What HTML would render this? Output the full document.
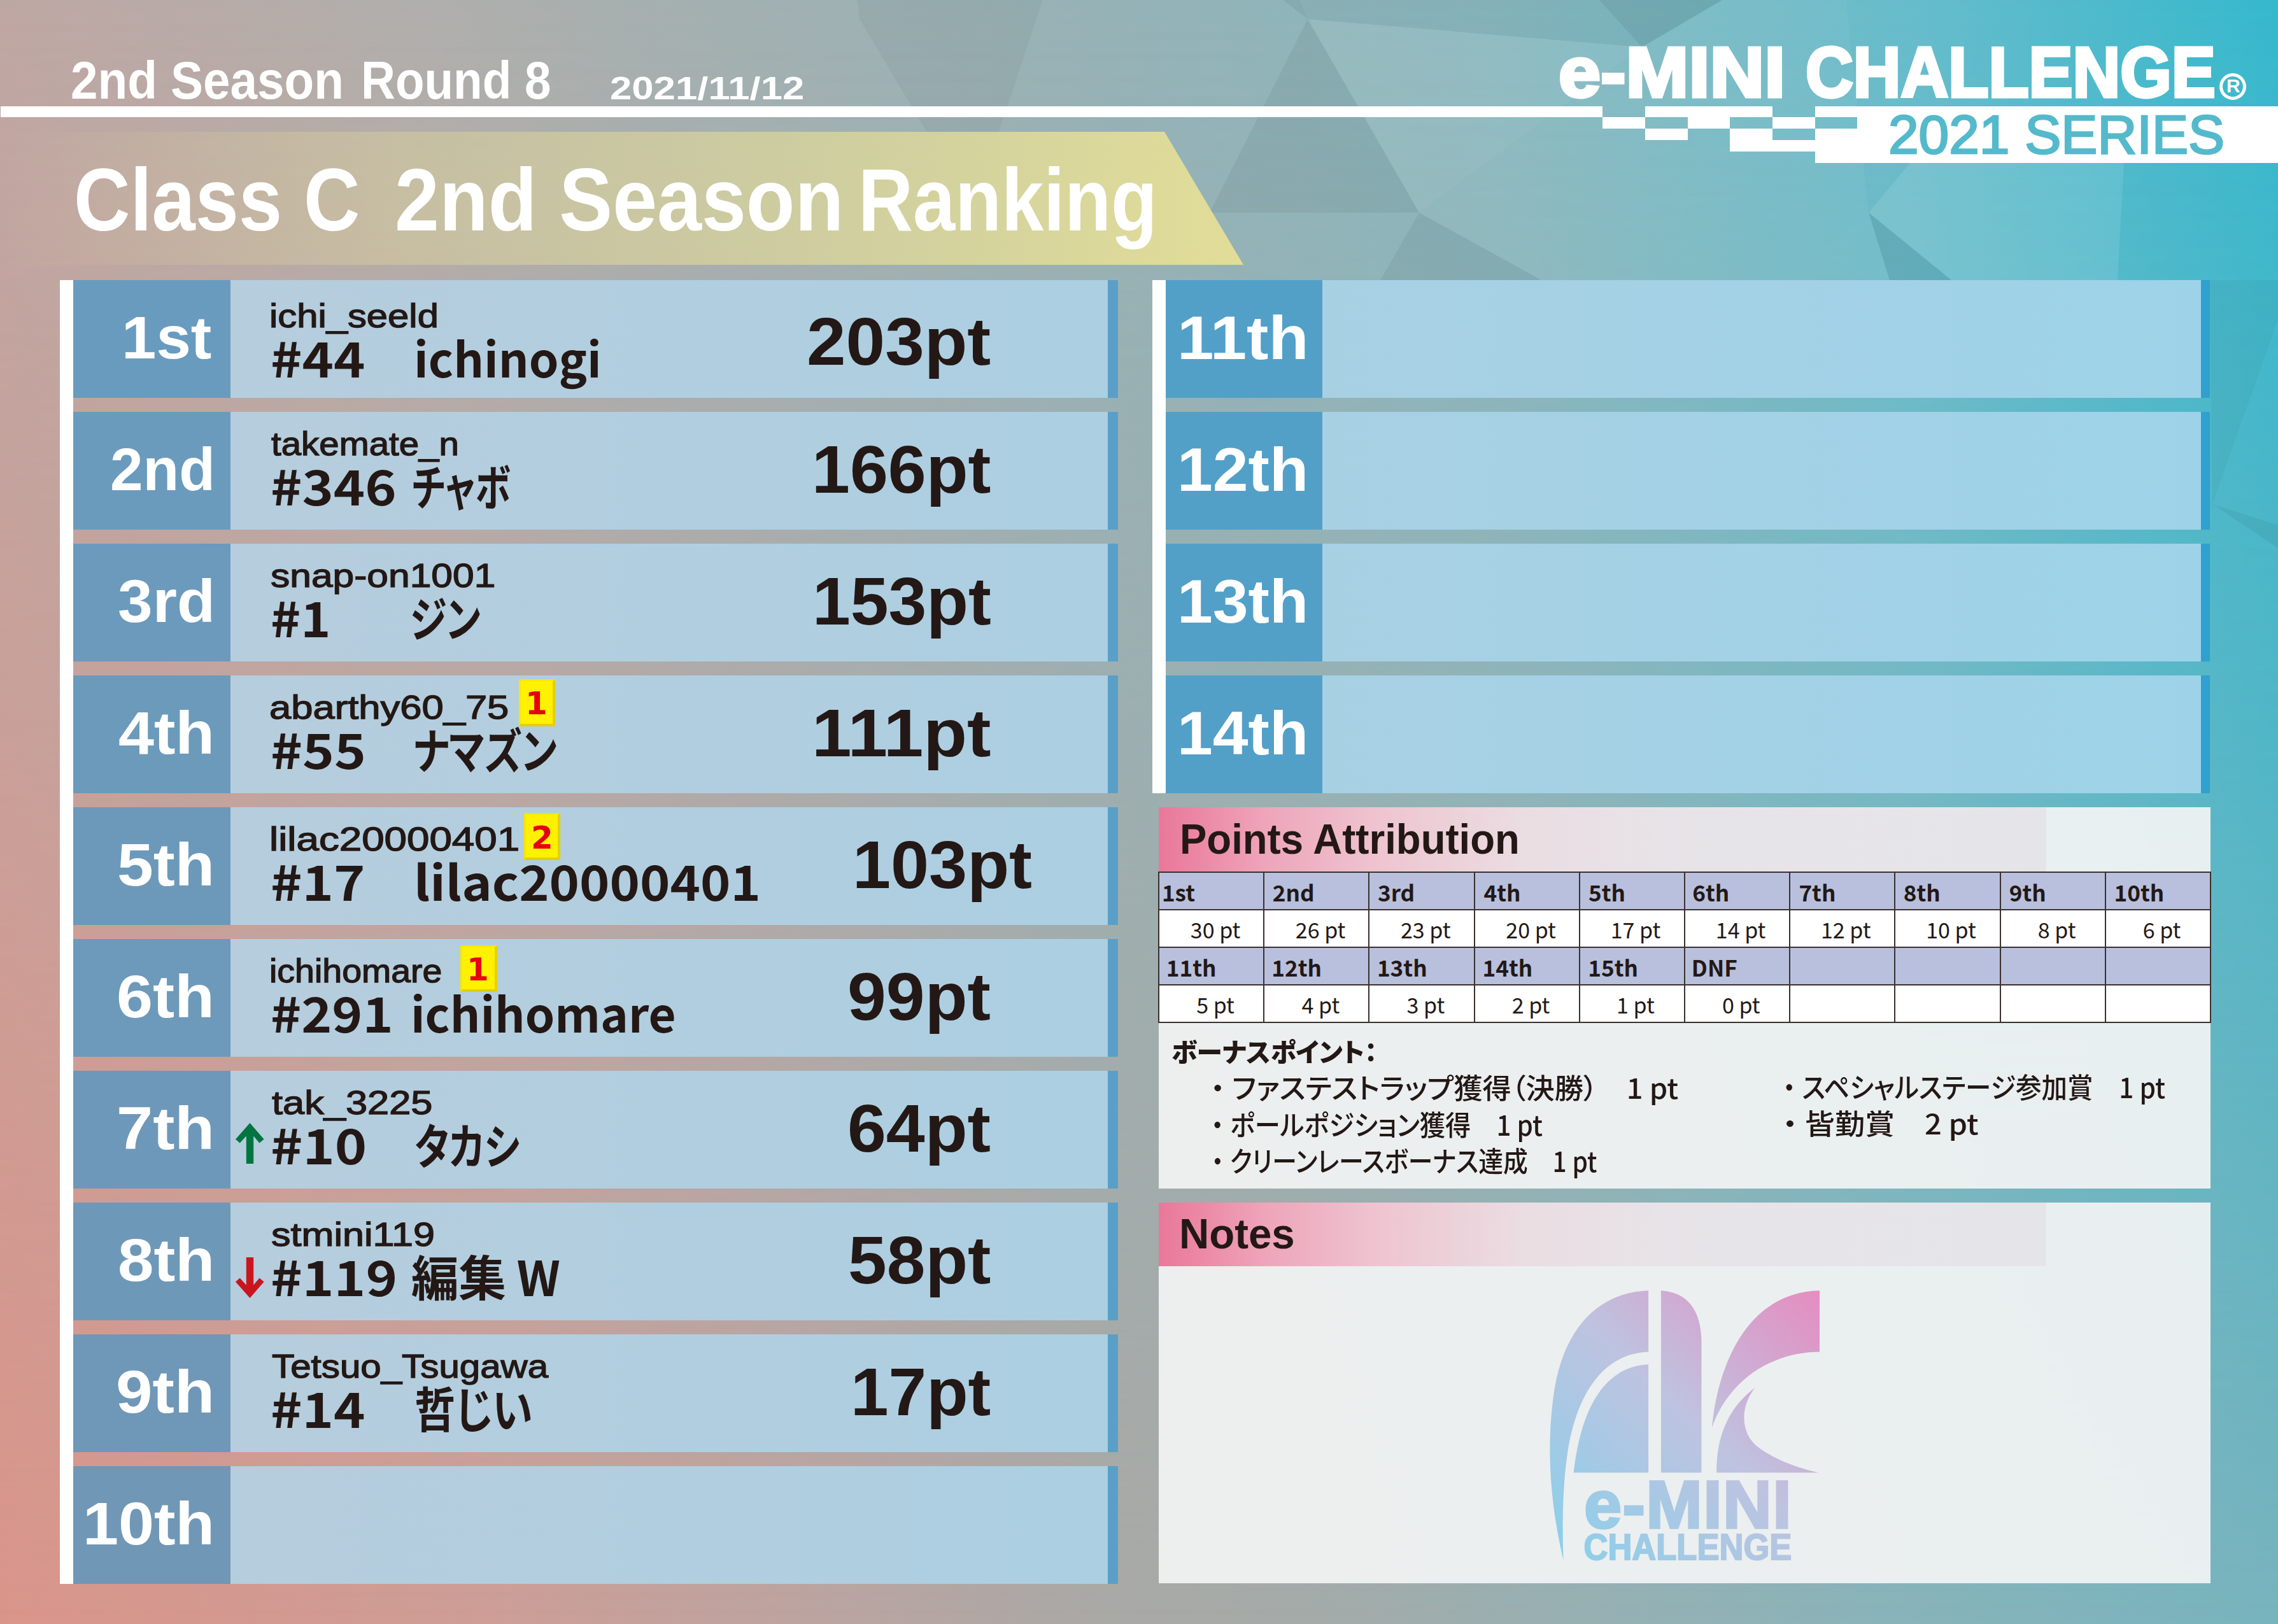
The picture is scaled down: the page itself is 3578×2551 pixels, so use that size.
<!DOCTYPE html><html><head><meta charset="utf-8"><style>
*{margin:0;padding:0;box-sizing:border-box}
html,body{width:3578px;height:2551px;overflow:hidden}
body{position:relative;font-family:"Liberation Sans","Noto Sans CJK JP",sans-serif;background:#a9aca9}
.a{position:absolute}
.t{position:absolute;white-space:pre;line-height:1;transform-origin:0 0}
#bgb{left:0;top:0;width:3578px;height:2551px;
 background:linear-gradient(to right,#da958a 0%,#cd9e97 22%,#b9a5a2 38%,#aaa9a6 48%,#a4aba9 58%,#99b0b2 68%,#88b4ba 84%,#78b4be 100%)}
#bgt{left:0;top:0;width:3578px;height:2551px;
 background:linear-gradient(to right,#bea7a3 0%,#b1aeab 17%,#a2b0b1 32%,#96b2b6 48%,#88b7be 66%,#66bccb 84%,#36b8cd 100%);
 -webkit-mask-image:linear-gradient(to bottom,#000 0%,rgba(0,0,0,.6) 45%,transparent 100%);
 mask-image:linear-gradient(to bottom,#000 0%,rgba(0,0,0,.6) 45%,transparent 100%)}
.bx{position:absolute;background:rgba(243,244,244,.92)}
.hd{position:absolute;background:linear-gradient(to right,#e9789a 0%,#eb86a3 4%,#eea5ba 12%,#eec5d0 25%,#eadde2 41%,#e7e4e8 60%,#e5e5e9 100%)}
</style></head><body>
<div id="bgb" class="a"></div><div id="bgt" class="a"></div>
<svg class="a" style="left:0;top:0" width="3578" height="2551"><polygon points="2054,30 2229,334 1900,334" fill="#000" fill-opacity="0.05"/><polygon points="2015,0 2054,30 2040,0" fill="#000" fill-opacity="0.05"/><polygon points="2054,30 2229,334 2579,74" fill="#fff" fill-opacity="0.07"/><polygon points="2229,334 2168,440 2421,440" fill="#000" fill-opacity="0.05"/><polygon points="2229,334 2579,74 2705,0 2900,0 2935,334 2797,440 2421,440" fill="#fff" fill-opacity="0.045"/><polygon points="2935,334 2968,440 3065,440" fill="#000" fill-opacity="0.08"/><polygon points="2797,440 2935,334 2968,440" fill="#fff" fill-opacity="0.05"/><polygon points="2038,0 2054,30 2579,74 2705,0" fill="#000" fill-opacity="0.03"/><polygon points="2512,0 2579,74 2705,0" fill="#000" fill-opacity="0.06"/><polygon points="3065,440 2935,334 3000,256 3336,256 3326,440" fill="#fff" fill-opacity="0.1"/><polygon points="1346,0 1638,0 1568,210 1457,210 1350,30" fill="#000" fill-opacity="0.035"/><polygon points="3475,792 3578,502 3578,440 3471,440" fill="#000" fill-opacity="0.03"/><polygon points="3475,792 3578,825 3578,861" fill="#000" fill-opacity="0.05"/></svg>
<svg class="a" style="left:0;top:0" width="3578" height="440"><defs><linearGradient id="bn" x1="0" x2="1" y1="0" y2="0"><stop offset="0" stop-color="#e8dd98" stop-opacity="0"/><stop offset="0.3" stop-color="#e6dc98" stop-opacity="0.35"/><stop offset="1" stop-color="#e6df96" stop-opacity="0.95"/></linearGradient></defs><polygon points="0,207 1829,207 1953,416 0,416" fill="url(#bn)"/></svg>
<div class="a" style="left:1px;top:167px;width:2516px;height:17px;background:#fff;"></div>
<div class="a" style="left:2584px;top:167px;width:200px;height:17px;background:#fff;"></div>
<div class="a" style="left:2851px;top:167px;width:727px;height:17px;background:#fff;"></div>
<div class="a" style="left:2517px;top:184px;width:67px;height:18px;background:#fff;"></div>
<div class="a" style="left:2651px;top:184px;width:66px;height:18px;background:#fff;"></div>
<div class="a" style="left:2784px;top:184px;width:67px;height:18px;background:#fff;"></div>
<div class="a" style="left:2917px;top:184px;width:661px;height:18px;background:#fff;"></div>
<div class="a" style="left:2584px;top:202px;width:67px;height:18px;background:#fff;"></div>
<div class="a" style="left:2717px;top:202px;width:67px;height:18px;background:#fff;"></div>
<div class="a" style="left:2851px;top:202px;width:727px;height:18px;background:#fff;"></div>
<div class="a" style="left:2717px;top:220px;width:861px;height:18px;background:#fff;"></div>
<div class="a" style="left:2851px;top:238px;width:727px;height:18px;background:#fff;"></div>
<div class="t" style="left:111.3px;top:84.6px;font-size:83.91px;font-family:'Liberation Sans','Noto Sans CJK JP',sans-serif;font-weight:bold;color:#fff;transform:scaleX(0.9108);;">2nd Season</div>
<div class="t" style="left:567.4px;top:84.6px;font-size:83.91px;font-family:'Liberation Sans','Noto Sans CJK JP',sans-serif;font-weight:bold;color:#fff;transform:scaleX(0.8896);;">Round 8</div>
<div class="t" style="left:958.2px;top:113.7px;font-size:50.29px;font-family:'Liberation Sans','Noto Sans CJK JP',sans-serif;font-weight:bold;color:#fff;transform:scaleX(1.2269);;">2021/11/12</div>
<div class="t" style="left:115.8px;top:243.9px;font-size:140.0px;font-family:'Liberation Sans','Noto Sans CJK JP',sans-serif;font-weight:bold;color:#fff;transform:scaleX(0.8754);;">Class C</div>
<div class="t" style="left:620.3px;top:243.9px;font-size:140.0px;font-family:'Liberation Sans','Noto Sans CJK JP',sans-serif;font-weight:bold;color:#fff;transform:scaleX(0.8976);;">2nd Season</div>
<div class="t" style="left:1348.3px;top:243.9px;font-size:140.0px;font-family:'Liberation Sans','Noto Sans CJK JP',sans-serif;font-weight:bold;color:#fff;transform:scaleX(0.8504);;">Ranking</div>
<div class="t" style="left:2448.2px;top:59.4px;font-size:110.95px;font-family:'Liberation Sans','Noto Sans CJK JP',sans-serif;font-weight:bold;color:#fff;transform:scaleX(1.07);-webkit-text-stroke:0.045em currentColor;">e-MINI</div>
<div class="t" style="left:2836.4px;top:59.4px;font-size:110.95px;font-family:'Liberation Sans','Noto Sans CJK JP',sans-serif;font-weight:bold;color:#fff;transform:scaleX(0.9327);-webkit-text-stroke:0.045em currentColor;">CHALLENGE</div>
<div class="a" style="left:3486px;top:115px;width:42px;height:42px;border:5px solid #fff;border-radius:50%"></div>
<div class="t" style="left:3497px;top:120px;font-size:30px;font-weight:bold;color:#fff">R</div>
<div class="t" style="left:2966.0px;top:168.9px;font-size:85.0px;font-family:'Liberation Sans','Noto Sans CJK JP',sans-serif;font-weight:normal;color:#55b9cc;transform:scaleX(1.0071);-webkit-text-stroke:0.032em currentColor;">2021 SERIES</div>
<div class="a" style="left:94px;top:440px;width:21px;height:2048px;background:#fff;"></div>
<div class="a" style="left:115px;top:440px;width:247px;height:185px;background:#699bbe;"></div>
<div class="a" style="left:362px;top:440px;width:1378px;height:185px;background:linear-gradient(to right,#b6cddd,#b2cedf 40%,#accfe2);"></div>
<div class="a" style="left:1740px;top:440px;width:16px;height:185px;background:#5a9fc8;"></div>
<div class="t" style="left:190.6px;top:483.3px;font-size:94.93px;font-family:'Liberation Sans','Noto Sans CJK JP',sans-serif;font-weight:bold;color:#fff;transform:scaleX(1.0304);;">1st</div>
<div class="t" style="left:423.2px;top:470.0px;font-size:52.32px;font-family:'Liberation Sans','Noto Sans CJK JP',sans-serif;font-weight:normal;color:#231815;transform:scaleX(1.1429);-webkit-text-stroke:0.026em currentColor;">ichi_seeld</div>
<div class="t" style="left:424.6px;top:523.2px;font-size:75.68px;font-family:'Noto Sans CJK JP','Liberation Sans',sans-serif;font-weight:bold;color:#231815;transform:scaleX(1.1092);;">#44</div>
<div class="t" style="left:650.3px;top:523.2px;font-size:75.68px;font-family:'Noto Sans CJK JP','Liberation Sans',sans-serif;font-weight:bold;color:#231815;transform:scaleX(0.988);font-feature-settings:'palt';">ichinogi</div>
<div class="t" style="left:1267.1px;top:484.0px;font-size:105.36px;font-family:'Liberation Sans','Noto Sans CJK JP',sans-serif;font-weight:bold;color:#231815;transform:scaleX(1.0509);;">203pt</div>
<div class="a" style="left:115px;top:647px;width:247px;height:185px;background:#6a9bbd;"></div>
<div class="a" style="left:362px;top:647px;width:1378px;height:185px;background:linear-gradient(to right,#b6cddd,#b2cedf 40%,#accfe2);"></div>
<div class="a" style="left:1740px;top:647px;width:16px;height:185px;background:#5a9fc8;"></div>
<div class="t" style="left:172.5px;top:690.3px;font-size:94.93px;font-family:'Liberation Sans','Noto Sans CJK JP',sans-serif;font-weight:bold;color:#fff;transform:scaleX(0.9767);;">2nd</div>
<div class="t" style="left:426.0px;top:671.0px;font-size:52.32px;font-family:'Liberation Sans','Noto Sans CJK JP',sans-serif;font-weight:normal;color:#231815;transform:scaleX(1.0785);-webkit-text-stroke:0.026em currentColor;">takemate_n</div>
<div class="t" style="left:424.6px;top:724.2px;font-size:75.68px;font-family:'Noto Sans CJK JP','Liberation Sans',sans-serif;font-weight:bold;color:#231815;transform:scaleX(1.107);;">#346</div>
<div class="t" style="left:647.0px;top:724.2px;font-size:75.68px;font-family:'Noto Sans CJK JP','Liberation Sans',sans-serif;font-weight:bold;color:#231815;transform:scaleX(0.7387);font-feature-settings:'palt';">チャボ</div>
<div class="t" style="left:1275.0px;top:685.0px;font-size:105.36px;font-family:'Liberation Sans','Noto Sans CJK JP',sans-serif;font-weight:bold;color:#231815;transform:scaleX(1.0221);;">166pt</div>
<div class="a" style="left:115px;top:854px;width:247px;height:185px;background:#6b9abc;"></div>
<div class="a" style="left:362px;top:854px;width:1378px;height:185px;background:linear-gradient(to right,#b6cddd,#b2cedf 40%,#accfe2);"></div>
<div class="a" style="left:1740px;top:854px;width:16px;height:185px;background:#5a9fc8;"></div>
<div class="t" style="left:184.5px;top:897.3px;font-size:94.93px;font-family:'Liberation Sans','Noto Sans CJK JP',sans-serif;font-weight:bold;color:#fff;transform:scaleX(1.0355);;">3rd</div>
<div class="t" style="left:425.1px;top:878.0px;font-size:52.32px;font-family:'Liberation Sans','Noto Sans CJK JP',sans-serif;font-weight:normal;color:#231815;transform:scaleX(1.1567);-webkit-text-stroke:0.026em currentColor;">snap-on1001</div>
<div class="t" style="left:424.8px;top:931.2px;font-size:75.68px;font-family:'Noto Sans CJK JP','Liberation Sans',sans-serif;font-weight:bold;color:#231815;transform:scaleX(1.0571);;">#1</div>
<div class="t" style="left:644.3px;top:931.2px;font-size:75.68px;font-family:'Noto Sans CJK JP','Liberation Sans',sans-serif;font-weight:bold;color:#231815;transform:scaleX(0.7745);font-feature-settings:'palt';">ジン</div>
<div class="t" style="left:1275.5px;top:892.0px;font-size:105.36px;font-family:'Liberation Sans','Noto Sans CJK JP',sans-serif;font-weight:bold;color:#231815;transform:scaleX(1.0202);;">153pt</div>
<div class="a" style="left:115px;top:1061px;width:247px;height:185px;background:#6b9abb;"></div>
<div class="a" style="left:362px;top:1061px;width:1378px;height:185px;background:linear-gradient(to right,#b6cddd,#b2cedf 40%,#accfe2);"></div>
<div class="a" style="left:1740px;top:1061px;width:16px;height:185px;background:#5a9fc8;"></div>
<div class="t" style="left:186.2px;top:1104.3px;font-size:94.93px;font-family:'Liberation Sans','Noto Sans CJK JP',sans-serif;font-weight:bold;color:#fff;transform:scaleX(1.0593);;">4th</div>
<div class="t" style="left:423.0px;top:1085.0px;font-size:52.32px;font-family:'Liberation Sans','Noto Sans CJK JP',sans-serif;font-weight:normal;color:#231815;transform:scaleX(1.1762);-webkit-text-stroke:0.026em currentColor;">abarthy60_75</div>
<div class="t" style="left:424.6px;top:1138.2px;font-size:75.68px;font-family:'Noto Sans CJK JP','Liberation Sans',sans-serif;font-weight:bold;color:#231815;transform:scaleX(1.1203);;">#55</div>
<div class="t" style="left:649.1px;top:1138.2px;font-size:75.68px;font-family:'Noto Sans CJK JP','Liberation Sans',sans-serif;font-weight:bold;color:#231815;transform:scaleX(0.7986);font-feature-settings:'palt';">ナマズン</div>
<div class="t" style="left:1275.0px;top:1099.0px;font-size:105.36px;font-family:'Liberation Sans','Noto Sans CJK JP',sans-serif;font-weight:bold;color:#231815;transform:scaleX(1.0681);;">111pt</div>
<div class="a" style="left:115px;top:1268px;width:247px;height:185px;background:#6c99ba;"></div>
<div class="a" style="left:362px;top:1268px;width:1378px;height:185px;background:linear-gradient(to right,#b6cddd,#b2cedf 40%,#accfe2);"></div>
<div class="a" style="left:1740px;top:1268px;width:16px;height:185px;background:#5a9fc8;"></div>
<div class="t" style="left:183.8px;top:1311.3px;font-size:94.93px;font-family:'Liberation Sans','Noto Sans CJK JP',sans-serif;font-weight:bold;color:#fff;transform:scaleX(1.0766);;">5th</div>
<div class="t" style="left:423.2px;top:1292.0px;font-size:52.32px;font-family:'Liberation Sans','Noto Sans CJK JP',sans-serif;font-weight:normal;color:#231815;transform:scaleX(1.2176);-webkit-text-stroke:0.026em currentColor;">lilac20000401</div>
<div class="t" style="left:424.6px;top:1345.2px;font-size:75.68px;font-family:'Noto Sans CJK JP','Liberation Sans',sans-serif;font-weight:bold;color:#231815;transform:scaleX(1.1091);;">#17</div>
<div class="t" style="left:649.6px;top:1345.2px;font-size:75.68px;font-family:'Noto Sans CJK JP','Liberation Sans',sans-serif;font-weight:bold;color:#231815;transform:scaleX(1.0635);font-feature-settings:'palt';">lilac20000401</div>
<div class="t" style="left:1339.2px;top:1306.0px;font-size:105.36px;font-family:'Liberation Sans','Noto Sans CJK JP',sans-serif;font-weight:bold;color:#231815;transform:scaleX(1.0247);;">103pt</div>
<div class="a" style="left:115px;top:1475px;width:247px;height:185px;background:#6d99ba;"></div>
<div class="a" style="left:362px;top:1475px;width:1378px;height:185px;background:linear-gradient(to right,#b6cddd,#b2cedf 40%,#accfe2);"></div>
<div class="a" style="left:1740px;top:1475px;width:16px;height:185px;background:#5a9fc8;"></div>
<div class="t" style="left:183.4px;top:1518.3px;font-size:94.93px;font-family:'Liberation Sans','Noto Sans CJK JP',sans-serif;font-weight:bold;color:#fff;transform:scaleX(1.0797);;">6th</div>
<div class="t" style="left:422.9px;top:1499.0px;font-size:52.32px;font-family:'Liberation Sans','Noto Sans CJK JP',sans-serif;font-weight:normal;color:#231815;transform:scaleX(1.0609);-webkit-text-stroke:0.026em currentColor;">ichihomare</div>
<div class="t" style="left:424.7px;top:1552.2px;font-size:75.68px;font-family:'Noto Sans CJK JP','Liberation Sans',sans-serif;font-weight:bold;color:#231815;transform:scaleX(1.0782);;">#291</div>
<div class="t" style="left:645.4px;top:1552.2px;font-size:75.68px;font-family:'Noto Sans CJK JP','Liberation Sans',sans-serif;font-weight:bold;color:#231815;transform:scaleX(0.983);font-feature-settings:'palt';">ichihomare</div>
<div class="t" style="left:1331.1px;top:1513.0px;font-size:105.36px;font-family:'Liberation Sans','Noto Sans CJK JP',sans-serif;font-weight:bold;color:#231815;transform:scaleX(1.0384);;">99pt</div>
<div class="a" style="left:115px;top:1682px;width:247px;height:185px;background:#6e98b9;"></div>
<div class="a" style="left:362px;top:1682px;width:1378px;height:185px;background:linear-gradient(to right,#b6cddd,#b2cedf 40%,#accfe2);"></div>
<div class="a" style="left:1740px;top:1682px;width:16px;height:185px;background:#5a9fc8;"></div>
<div class="t" style="left:183.1px;top:1725.3px;font-size:94.93px;font-family:'Liberation Sans','Noto Sans CJK JP',sans-serif;font-weight:bold;color:#fff;transform:scaleX(1.0821);;">7th</div>
<div class="t" style="left:427.0px;top:1706.0px;font-size:52.32px;font-family:'Liberation Sans','Noto Sans CJK JP',sans-serif;font-weight:normal;color:#231815;transform:scaleX(1.1726);-webkit-text-stroke:0.026em currentColor;">tak_3225</div>
<div class="t" style="left:424.6px;top:1759.2px;font-size:75.68px;font-family:'Noto Sans CJK JP','Liberation Sans',sans-serif;font-weight:bold;color:#231815;transform:scaleX(1.1293);;">#10</div>
<div class="t" style="left:650.9px;top:1759.2px;font-size:75.68px;font-family:'Noto Sans CJK JP','Liberation Sans',sans-serif;font-weight:bold;color:#231815;transform:scaleX(0.7885);font-feature-settings:'palt';">タカシ</div>
<div class="t" style="left:1331.2px;top:1720.0px;font-size:105.36px;font-family:'Liberation Sans','Noto Sans CJK JP',sans-serif;font-weight:bold;color:#231815;transform:scaleX(1.0388);;">64pt</div>
<div class="a" style="left:115px;top:1889px;width:247px;height:185px;background:#6e98b8;"></div>
<div class="a" style="left:362px;top:1889px;width:1378px;height:185px;background:linear-gradient(to right,#b6cddd,#b2cedf 40%,#accfe2);"></div>
<div class="a" style="left:1740px;top:1889px;width:16px;height:185px;background:#5a9fc8;"></div>
<div class="t" style="left:184.7px;top:1932.3px;font-size:94.93px;font-family:'Liberation Sans','Noto Sans CJK JP',sans-serif;font-weight:bold;color:#fff;transform:scaleX(1.0706);;">8th</div>
<div class="t" style="left:426.1px;top:1913.0px;font-size:52.32px;font-family:'Liberation Sans','Noto Sans CJK JP',sans-serif;font-weight:normal;color:#231815;transform:scaleX(1.1675);-webkit-text-stroke:0.026em currentColor;">stmini119</div>
<div class="t" style="left:424.6px;top:1966.2px;font-size:75.68px;font-family:'Noto Sans CJK JP','Liberation Sans',sans-serif;font-weight:bold;color:#231815;transform:scaleX(1.1154);;">#119</div>
<div class="t" style="left:646.1px;top:1966.2px;font-size:75.68px;font-family:'Noto Sans CJK JP','Liberation Sans',sans-serif;font-weight:bold;color:#231815;transform:scaleX(0.9835);font-feature-settings:'palt';">編集 W</div>
<div class="t" style="left:1331.7px;top:1927.0px;font-size:105.36px;font-family:'Liberation Sans','Noto Sans CJK JP',sans-serif;font-weight:bold;color:#231815;transform:scaleX(1.0362);;">58pt</div>
<div class="a" style="left:115px;top:2096px;width:247px;height:185px;background:#6f97b7;"></div>
<div class="a" style="left:362px;top:2096px;width:1378px;height:185px;background:linear-gradient(to right,#b6cddd,#b2cedf 40%,#accfe2);"></div>
<div class="a" style="left:1740px;top:2096px;width:16px;height:185px;background:#5a9fc8;"></div>
<div class="t" style="left:182.1px;top:2139.3px;font-size:94.93px;font-family:'Liberation Sans','Noto Sans CJK JP',sans-serif;font-weight:bold;color:#fff;transform:scaleX(1.0894);;">9th</div>
<div class="t" style="left:426.7px;top:2120.0px;font-size:52.32px;font-family:'Liberation Sans','Noto Sans CJK JP',sans-serif;font-weight:normal;color:#231815;transform:scaleX(1.114);-webkit-text-stroke:0.026em currentColor;">Tetsuo_Tsugawa</div>
<div class="t" style="left:424.6px;top:2173.2px;font-size:75.68px;font-family:'Noto Sans CJK JP','Liberation Sans',sans-serif;font-weight:bold;color:#231815;transform:scaleX(1.11);;">#14</div>
<div class="t" style="left:651.0px;top:2173.2px;font-size:75.68px;font-family:'Noto Sans CJK JP','Liberation Sans',sans-serif;font-weight:bold;color:#231815;transform:scaleX(0.8476);font-feature-settings:'palt';">哲じい</div>
<div class="t" style="left:1335.5px;top:2134.0px;font-size:105.36px;font-family:'Liberation Sans','Noto Sans CJK JP',sans-serif;font-weight:bold;color:#231815;transform:scaleX(1.0167);;">17pt</div>
<div class="a" style="left:115px;top:2303px;width:247px;height:185px;background:#7097b6;"></div>
<div class="a" style="left:362px;top:2303px;width:1378px;height:185px;background:linear-gradient(to right,#b6cddd,#b2cedf 40%,#accfe2);"></div>
<div class="a" style="left:1740px;top:2303px;width:16px;height:185px;background:#5a9fc8;"></div>
<div class="t" style="left:130.1px;top:2346.3px;font-size:94.93px;font-family:'Liberation Sans','Noto Sans CJK JP',sans-serif;font-weight:bold;color:#fff;transform:scaleX(1.0611);;">10th</div>
<div class="a" style="left:1810px;top:440px;width:21px;height:806px;background:#fff;"></div>
<div class="a" style="left:1831px;top:440px;width:246px;height:185px;background:#52a0c8;"></div>
<div class="a" style="left:2077px;top:440px;width:1380px;height:185px;background:linear-gradient(to right,#a8d0e3,#a3d1e6 50%,#9dd3e8);"></div>
<div class="a" style="left:3457px;top:440px;width:14px;height:185px;background:#30a0ce;"></div>
<div class="t" style="left:1848.8px;top:482.5px;font-size:96.81px;font-family:'Liberation Sans','Noto Sans CJK JP',sans-serif;font-weight:bold;color:#fff;transform:scaleX(1.066);;">11th</div>
<div class="a" style="left:1831px;top:647px;width:246px;height:185px;background:#52a0c8;"></div>
<div class="a" style="left:2077px;top:647px;width:1380px;height:185px;background:linear-gradient(to right,#a8d0e3,#a3d1e6 50%,#9dd3e8);"></div>
<div class="a" style="left:3457px;top:647px;width:14px;height:185px;background:#30a0ce;"></div>
<div class="t" style="left:1849.0px;top:689.5px;font-size:96.81px;font-family:'Liberation Sans','Noto Sans CJK JP',sans-serif;font-weight:bold;color:#fff;transform:scaleX(1.0356);;">12th</div>
<div class="a" style="left:1831px;top:854px;width:246px;height:185px;background:#52a0c8;"></div>
<div class="a" style="left:2077px;top:854px;width:1380px;height:185px;background:linear-gradient(to right,#a8d0e3,#a3d1e6 50%,#9dd3e8);"></div>
<div class="a" style="left:3457px;top:854px;width:14px;height:185px;background:#30a0ce;"></div>
<div class="t" style="left:1849.0px;top:896.5px;font-size:96.81px;font-family:'Liberation Sans','Noto Sans CJK JP',sans-serif;font-weight:bold;color:#fff;transform:scaleX(1.0356);;">13th</div>
<div class="a" style="left:1831px;top:1061px;width:246px;height:185px;background:#52a0c8;"></div>
<div class="a" style="left:2077px;top:1061px;width:1380px;height:185px;background:linear-gradient(to right,#a8d0e3,#a3d1e6 50%,#9dd3e8);"></div>
<div class="a" style="left:3457px;top:1061px;width:14px;height:185px;background:#30a0ce;"></div>
<div class="t" style="left:1849.0px;top:1103.5px;font-size:96.81px;font-family:'Liberation Sans','Noto Sans CJK JP',sans-serif;font-weight:bold;color:#fff;transform:scaleX(1.0356);;">14th</div>
<div class="bx" style="left:1820px;top:1268px;width:1652px;height:599px"></div>
<div class="hd" style="left:1820px;top:1268px;width:1394px;height:102px"></div>
<div class="t" style="left:1852.6px;top:1285.4px;font-size:66.23px;font-family:'Liberation Sans','Noto Sans CJK JP',sans-serif;font-weight:bold;color:#231815;transform:scaleX(0.959);;">Points Attribution</div>
<div class="a" style="left:1820px;top:1370px;width:1652px;height:59px;background:#b8c0dd;"></div>
<div class="a" style="left:1820px;top:1429px;width:1652px;height:59px;background:#fff;"></div>
<div class="a" style="left:1820px;top:1488px;width:1652px;height:59px;background:#b8c0dd;"></div>
<div class="a" style="left:1820px;top:1547px;width:1652px;height:59px;background:#fff;"></div>
<div class="a" style="left:1820px;top:1369px;width:1652px;height:2px;background:#3a302e;"></div>
<div class="a" style="left:1820px;top:1428px;width:1652px;height:2px;background:#3a302e;"></div>
<div class="a" style="left:1820px;top:1487px;width:1652px;height:2px;background:#3a302e;"></div>
<div class="a" style="left:1820px;top:1546px;width:1652px;height:2px;background:#3a302e;"></div>
<div class="a" style="left:1820px;top:1605px;width:1652px;height:2px;background:#3a302e;"></div>
<div class="a" style="left:1818.6px;top:1369px;width:2px;height:238px;background:#3a302e;"></div>
<div class="a" style="left:1984.2px;top:1369px;width:2px;height:238px;background:#3a302e;"></div>
<div class="a" style="left:2149px;top:1369px;width:2px;height:238px;background:#3a302e;"></div>
<div class="a" style="left:2314.5px;top:1369px;width:2px;height:238px;background:#3a302e;"></div>
<div class="a" style="left:2479.7px;top:1369px;width:2px;height:238px;background:#3a302e;"></div>
<div class="a" style="left:2644.9px;top:1369px;width:2px;height:238px;background:#3a302e;"></div>
<div class="a" style="left:2810px;top:1369px;width:2px;height:238px;background:#3a302e;"></div>
<div class="a" style="left:2975px;top:1369px;width:2px;height:238px;background:#3a302e;"></div>
<div class="a" style="left:3140.7px;top:1369px;width:2px;height:238px;background:#3a302e;"></div>
<div class="a" style="left:3305.7px;top:1369px;width:2px;height:238px;background:#3a302e;"></div>
<div class="a" style="left:3471px;top:1369px;width:2px;height:238px;background:#3a302e;"></div>
<div class="t" style="left:1824.9px;top:1383.1px;font-size:35.14px;font-family:'Noto Sans CJK JP','Liberation Sans',sans-serif;font-weight:bold;color:#231815;;">1st</div>
<div class="t" style="left:1869.8px;top:1442.5px;font-size:34.01px;font-family:'Noto Sans CJK JP','Liberation Sans',sans-serif;font-weight:normal;color:#231815;;">30 pt</div>
<div class="t" style="left:1998.8px;top:1383.1px;font-size:35.14px;font-family:'Noto Sans CJK JP','Liberation Sans',sans-serif;font-weight:bold;color:#231815;;">2nd</div>
<div class="t" style="left:2034.8px;top:1442.5px;font-size:34.01px;font-family:'Noto Sans CJK JP','Liberation Sans',sans-serif;font-weight:normal;color:#231815;;">26 pt</div>
<div class="t" style="left:2164.0px;top:1383.1px;font-size:35.14px;font-family:'Noto Sans CJK JP','Liberation Sans',sans-serif;font-weight:bold;color:#231815;;">3rd</div>
<div class="t" style="left:2200.0px;top:1442.5px;font-size:34.01px;font-family:'Noto Sans CJK JP','Liberation Sans',sans-serif;font-weight:normal;color:#231815;;">23 pt</div>
<div class="t" style="left:2330.6px;top:1383.1px;font-size:35.14px;font-family:'Noto Sans CJK JP','Liberation Sans',sans-serif;font-weight:bold;color:#231815;;">4th</div>
<div class="t" style="left:2365.3px;top:1442.5px;font-size:34.01px;font-family:'Noto Sans CJK JP','Liberation Sans',sans-serif;font-weight:normal;color:#231815;;">20 pt</div>
<div class="t" style="left:2495.1px;top:1383.1px;font-size:35.14px;font-family:'Noto Sans CJK JP','Liberation Sans',sans-serif;font-weight:bold;color:#231815;;">5th</div>
<div class="t" style="left:2529.7px;top:1442.5px;font-size:34.01px;font-family:'Noto Sans CJK JP','Liberation Sans',sans-serif;font-weight:normal;color:#231815;;">17 pt</div>
<div class="t" style="left:2658.2px;top:1383.1px;font-size:35.14px;font-family:'Noto Sans CJK JP','Liberation Sans',sans-serif;font-weight:bold;color:#231815;;">6th</div>
<div class="t" style="left:2694.8px;top:1442.5px;font-size:34.01px;font-family:'Noto Sans CJK JP','Liberation Sans',sans-serif;font-weight:normal;color:#231815;;">14 pt</div>
<div class="t" style="left:2825.4px;top:1383.1px;font-size:35.14px;font-family:'Noto Sans CJK JP','Liberation Sans',sans-serif;font-weight:bold;color:#231815;;">7th</div>
<div class="t" style="left:2859.9px;top:1442.5px;font-size:34.01px;font-family:'Noto Sans CJK JP','Liberation Sans',sans-serif;font-weight:normal;color:#231815;;">12 pt</div>
<div class="t" style="left:2989.8px;top:1383.1px;font-size:35.14px;font-family:'Noto Sans CJK JP','Liberation Sans',sans-serif;font-weight:bold;color:#231815;;">8th</div>
<div class="t" style="left:3025.2px;top:1442.5px;font-size:34.01px;font-family:'Noto Sans CJK JP','Liberation Sans',sans-serif;font-weight:normal;color:#231815;;">10 pt</div>
<div class="t" style="left:3155.8px;top:1383.1px;font-size:35.14px;font-family:'Noto Sans CJK JP','Liberation Sans',sans-serif;font-weight:bold;color:#231815;;">9th</div>
<div class="t" style="left:3200.8px;top:1442.5px;font-size:34.01px;font-family:'Noto Sans CJK JP','Liberation Sans',sans-serif;font-weight:normal;color:#231815;;">8 pt</div>
<div class="t" style="left:3320.6px;top:1383.1px;font-size:35.14px;font-family:'Noto Sans CJK JP','Liberation Sans',sans-serif;font-weight:bold;color:#231815;;">10th</div>
<div class="t" style="left:3365.7px;top:1442.5px;font-size:34.01px;font-family:'Noto Sans CJK JP','Liberation Sans',sans-serif;font-weight:normal;color:#231815;;">6 pt</div>
<div class="t" style="left:1831.7px;top:1501.1px;font-size:35.14px;font-family:'Noto Sans CJK JP','Liberation Sans',sans-serif;font-weight:bold;color:#231815;;">11th</div>
<div class="t" style="left:1879.2px;top:1560.5px;font-size:34.01px;font-family:'Noto Sans CJK JP','Liberation Sans',sans-serif;font-weight:normal;color:#231815;;">5 pt</div>
<div class="t" style="left:1997.2px;top:1501.1px;font-size:35.14px;font-family:'Noto Sans CJK JP','Liberation Sans',sans-serif;font-weight:bold;color:#231815;;">12th</div>
<div class="t" style="left:2044.6px;top:1560.5px;font-size:34.01px;font-family:'Noto Sans CJK JP','Liberation Sans',sans-serif;font-weight:normal;color:#231815;;">4 pt</div>
<div class="t" style="left:2162.9px;top:1501.1px;font-size:35.14px;font-family:'Noto Sans CJK JP','Liberation Sans',sans-serif;font-weight:bold;color:#231815;;">13th</div>
<div class="t" style="left:2209.6px;top:1560.5px;font-size:34.01px;font-family:'Noto Sans CJK JP','Liberation Sans',sans-serif;font-weight:normal;color:#231815;;">3 pt</div>
<div class="t" style="left:2328.5px;top:1501.1px;font-size:35.14px;font-family:'Noto Sans CJK JP','Liberation Sans',sans-serif;font-weight:bold;color:#231815;;">14th</div>
<div class="t" style="left:2374.7px;top:1560.5px;font-size:34.01px;font-family:'Noto Sans CJK JP','Liberation Sans',sans-serif;font-weight:normal;color:#231815;;">2 pt</div>
<div class="t" style="left:2494.2px;top:1501.1px;font-size:35.14px;font-family:'Noto Sans CJK JP','Liberation Sans',sans-serif;font-weight:bold;color:#231815;;">15th</div>
<div class="t" style="left:2539.1px;top:1560.5px;font-size:34.01px;font-family:'Noto Sans CJK JP','Liberation Sans',sans-serif;font-weight:normal;color:#231815;;">1 pt</div>
<div class="t" style="left:2656.8px;top:1501.1px;font-size:35.14px;font-family:'Noto Sans CJK JP','Liberation Sans',sans-serif;font-weight:bold;color:#231815;;">DNF</div>
<div class="t" style="left:2704.9px;top:1560.5px;font-size:34.01px;font-family:'Noto Sans CJK JP','Liberation Sans',sans-serif;font-weight:normal;color:#231815;;">0 pt</div>
<div class="t" style="left:1840.1px;top:1629.9px;font-size:40.95px;font-family:'Noto Sans CJK JP','Liberation Sans',sans-serif;font-weight:900;color:#231815;transform:scaleX(0.994);font-feature-settings:'palt';">ボーナスポイント：</div>
<div class="t" style="left:1890.1px;top:1685.3px;font-size:44px;font-family:'Noto Sans CJK JP','Liberation Sans',sans-serif;font-weight:500;color:#231815;transform:scaleX(1.0283);font-feature-settings:'palt';"><span style="font-feature-settings:normal">・</span>ファステストラップ獲得（決勝）　1 pt</div>
<div class="t" style="left:1892.0px;top:1742.6px;font-size:44px;font-family:'Noto Sans CJK JP','Liberation Sans',sans-serif;font-weight:500;color:#231815;transform:scaleX(0.9155);font-feature-settings:'palt';"><span style="font-feature-settings:normal">・</span>ポールポジション獲得　1 pt</div>
<div class="t" style="left:1892.6px;top:1799.9px;font-size:44px;font-family:'Noto Sans CJK JP','Liberation Sans',sans-serif;font-weight:500;color:#231815;transform:scaleX(0.8819);font-feature-settings:'palt';"><span style="font-feature-settings:normal">・</span>クリーンレースボーナス達成　1 pt</div>
<div class="t" style="left:2790.4px;top:1684.2px;font-size:44px;font-family:'Noto Sans CJK JP','Liberation Sans',sans-serif;font-weight:500;color:#231815;transform:scaleX(0.9213);font-feature-settings:'palt';"><span style="font-feature-settings:normal">・</span>スペシャルステージ参加賞　1 pt</div>
<div class="t" style="left:2787.9px;top:1740.9px;font-size:44px;font-family:'Noto Sans CJK JP','Liberation Sans',sans-serif;font-weight:500;color:#231815;transform:scaleX(1.0683);font-feature-settings:'palt';"><span style="font-feature-settings:normal">・</span>皆勤賞　2 pt</div>
<div class="bx" style="left:1820px;top:1889px;width:1652px;height:598px"></div>
<div class="hd" style="left:1820px;top:1889px;width:1394px;height:100px"></div>
<div class="t" style="left:1851.7px;top:1905.8px;font-size:65.94px;font-family:'Liberation Sans','Noto Sans CJK JP',sans-serif;font-weight:bold;color:#231815;transform:scaleX(0.9921);;">Notes</div>
<div class="a" style="left:815px;top:1067px;width:57px;height:74px;background:#fff100;border-style:solid;border-width:3px 4px 4px 3px;border-color:#f6e800 #e3d000 #e3d000 #f6e800"></div>
<div class="t" style="left:825px;top:1080px;font-size:50px;font-weight:bold;font-family:'DejaVu Sans','Liberation Sans',sans-serif;color:#e60012">1</div>
<div class="a" style="left:823px;top:1277px;width:57px;height:74px;background:#fff100;border-style:solid;border-width:3px 4px 4px 3px;border-color:#f6e800 #e3d000 #e3d000 #f6e800"></div>
<div class="t" style="left:834px;top:1291px;font-size:50px;font-weight:bold;font-family:'DejaVu Sans','Liberation Sans',sans-serif;color:#e60012">2</div>
<div class="a" style="left:723px;top:1485px;width:58px;height:73px;background:#fff100;border-style:solid;border-width:3px 4px 4px 3px;border-color:#f6e800 #e3d000 #e3d000 #f6e800"></div>
<div class="t" style="left:733px;top:1498px;font-size:50px;font-weight:bold;font-family:'DejaVu Sans','Liberation Sans',sans-serif;color:#e60012">1</div>
<svg class="a" style="left:370px;top:1764px" width="45" height="64"><polygon points="22.5,0 44.6,25.6 37.5,31.5 28.2,20.6 28.2,63.9 16.8,63.9 16.8,20.6 6.7,31.5 0,25.6" fill="#007540"/></svg>
<svg class="a" style="left:370px;top:1975px" width="45" height="64"><polygon points="22.5,64 44.6,38.4 37.5,32.5 28.2,43.4 28.2,0.10000000000000142 16.8,0.10000000000000142 16.8,43.4 6.7,32.5 0,38.4" fill="#c9161e"/></svg>
<svg class="a" style="left:2400px;top:2000px" width="500" height="480" viewBox="0 0 1692 1624">
<defs><linearGradient id="lgd" gradientUnits="userSpaceOnUse" x1="200" y1="1500" x2="1550" y2="80">
<stop offset="0" stop-color="#8ccfea"/><stop offset="0.5" stop-color="#bec3e0"/><stop offset="1" stop-color="#e68cc0"/></linearGradient></defs>
<g fill="url(#lgd)">
<path d="M640 92 C400 100 200 260 140 620 C105 850 100 1150 188 1525 C178 1250 190 960 250 780 C320 560 450 425 640 418 Z"/>
<path d="M640 485 C420 495 285 690 242 1060 L640 1060 Z"/>
<path d="M707 92 C850 100 922 200 922 370 L922 1060 L707 1060 Z"/>
<path d="M1550 92 L1550 418 C1300 420 1070 560 978 820 C1010 480 1170 100 1550 92 Z"/>
<path d="M1208 608 C1130 700 1120 850 1230 930 C1320 995 1440 1035 1545 1060 L1002 1060 C1000 850 1080 700 1208 608 Z"/>
<text x="298" y="1352" font-family="'Liberation Sans',sans-serif" font-weight="bold" font-size="360" textLength="1102" lengthAdjust="spacing" stroke="url(#lgd)" stroke-width="12">e-MINI</text>
<text x="296" y="1522" font-family="'Liberation Sans',sans-serif" font-weight="bold" font-size="196" textLength="1106" lengthAdjust="spacingAndGlyphs" stroke="url(#lgd)" stroke-width="7">CHALLENGE</text>
</g></svg>
</body></html>
